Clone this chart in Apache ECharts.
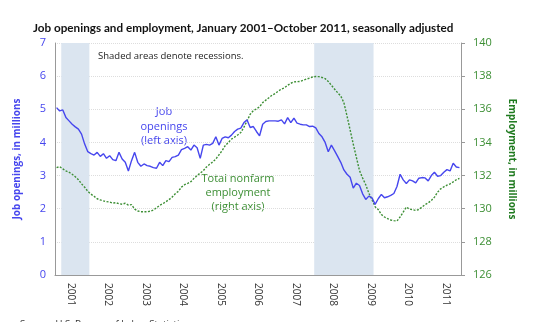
<!DOCTYPE html>
<html>
<head>
<meta charset="utf-8">
<script src="https://cdn.jsdelivr.net/npm/echarts@6/dist/echarts.min.js"></script>
<style>
  html, body { margin: 0; padding: 0; background: #fff; }
  #chart { width: 560px; height: 322px; }
</style>
</head>
<body>
<div id="chart"></div>
<script>
// months Jan 2001 .. Oct 2011 (130 points)
const years = ['2001', '2002', '2003', '2004', '2005', '2006', '2007', '2008', '2009', '2010', '2011']

// job openings, millions (left axis)
const jobOpenings = [
  5.05, 4.95, 4.98, 4.75, 4.65, 4.55, 4.47, 4.40, 4.25, 3.95, 3.72, 3.66,
  3.62, 3.70, 3.58, 3.66, 3.52, 3.60, 3.48, 3.45, 3.70, 3.50, 3.40, 3.14,
  3.45, 3.70, 3.40, 3.28, 3.35, 3.30, 3.28, 3.24, 3.22, 3.40, 3.30, 3.45,
  3.42, 3.55, 3.57, 3.62, 3.78, 3.82, 3.87, 3.77, 3.92, 3.84, 3.52, 3.92,
  3.94, 3.92, 3.97, 4.17, 3.92, 4.12, 4.17, 4.14, 4.22, 4.33, 4.40, 4.43,
  4.60, 4.68, 4.45, 4.48, 4.33, 4.20, 4.55, 4.63, 4.65, 4.65, 4.65, 4.64,
  4.68, 4.56, 4.75, 4.60, 4.73, 4.58, 4.55, 4.53, 4.53, 4.48, 4.49, 4.44,
  4.27, 4.17, 4.00, 3.72, 3.92, 3.75, 3.58, 3.40, 3.17, 3.04, 2.95, 2.62,
  2.77, 2.70, 2.45, 2.28, 2.38, 2.33, 2.13, 2.30, 2.43, 2.33, 2.36, 2.40,
  2.46, 2.67, 3.04, 2.87, 2.76, 2.87, 2.84, 2.78, 2.92, 2.94, 2.93, 2.84,
  3.00, 3.10, 2.98, 3.00, 3.10, 3.18, 3.14, 3.37, 3.26, 3.24
]

// total nonfarm employment, millions (right axis)
const employment = [
  132.48, 132.54, 132.40, 132.28, 132.20, 132.08, 131.93, 131.75, 131.50, 131.30, 131.05, 130.88,
  130.75, 130.60, 130.53, 130.47, 130.43, 130.40, 130.34, 130.36, 130.30, 130.27, 130.33, 130.22,
  130.25, 129.98, 129.86, 129.82, 129.82, 129.82, 129.85, 129.92, 130.05, 130.20, 130.30, 130.42,
  130.55, 130.70, 130.90, 131.05, 131.30, 131.45, 131.53, 131.63, 131.83, 132.00, 132.15, 132.30,
  132.52, 132.68, 132.82, 133.00, 133.25, 133.50, 133.80, 134.00, 134.20, 134.32, 134.45, 134.60,
  134.92, 135.30, 135.70, 135.92, 136.02, 136.15, 136.40, 136.55, 136.70, 136.85, 136.95, 137.10,
  137.22, 137.30, 137.45, 137.57, 137.65, 137.67, 137.68, 137.75, 137.82, 137.88, 137.95, 137.98,
  137.97, 137.92, 137.85, 137.68, 137.45, 137.22, 137.00, 136.80, 136.40, 135.60, 134.75, 133.90,
  133.10, 132.30, 131.85, 131.45, 130.93, 130.55, 130.12, 129.95, 129.65, 129.50, 129.40, 129.32,
  129.28, 129.26, 129.50, 129.80, 130.10, 129.98, 129.94, 129.90, 129.95, 130.10, 130.25, 130.35,
  130.50, 130.70, 131.00, 131.20, 131.32, 131.42, 131.50, 131.62, 131.75, 131.83
]

// recessions as month index ranges [start, end) from Jan 2001
const recessions = [[2, 11], [83, 102]]

const blue = '#4646ee'
const green = '#3d8f35'

const chart = echarts.init(document.getElementById('chart'))

// put each month in the middle of its slot
const toPoints = arr => arr.map((v, i) => [i + 0.5, v])
const yearTicks = years.map((y, i) => 5 + i * 12)

const option = {
  animation: false,
  textStyle: { fontFamily: 'Open Sans' },
  title: {
    text: 'Job openings and employment, January 2001\u2013October 2011, seasonally adjusted',
    left: 28,
    top: 17,
    textStyle: { fontFamily: 'Lato', fontWeight: 'bold', fontSize: 11.7, color: '#111' }
  },
  grid: { left: 55, right: 99, top: 43, bottom: 47 },
  xAxis: {
    type: 'value',
    min: 0,
    max: 130,
    splitLine: { show: false },
    axisLine: { lineStyle: { color: '#999' } },
    axisTick: { show: false },
    axisLabel: {
      customValues: yearTicks,
      rotate: -90,
      margin: 8,
      fontSize: 10,
      color: '#333',
      formatter: v => years[Math.round((v - 5) / 12)]
    }
  },
  yAxis: [
    {
      type: 'value',
      min: 0,
      max: 7,
      interval: 1,
      name: 'Job openings, in millions',
      nameLocation: 'middle',
      nameRotate: 90,
      nameGap: 33,
      nameTextStyle: { color: blue, fontWeight: 'bold', fontSize: 10 },
      axisLine: { show: true, lineStyle: { color: '#999' } },
      axisTick: { show: false },
      axisLabel: { color: blue, fontSize: 11, margin: 9 },
      splitLine: { lineStyle: { color: '#ddd', type: 'dotted' } }
    },
    {
      type: 'value',
      min: 126,
      max: 140,
      interval: 2,
      name: 'Employment, in millions',
      nameLocation: 'middle',
      nameRotate: -90,
      nameGap: 46,
      nameTextStyle: { color: '#1f7a1f', fontWeight: 'bold', fontSize: 10 },
      axisLine: { show: true, lineStyle: { color: '#999' } },
      axisTick: { show: true, length: 4, lineStyle: { color: '#999' } },
      axisLabel: { color: green, fontSize: 11, margin: 12 },
      splitLine: { show: false }
    }
  ],
  series: [
    {
      name: 'Recessions',
      type: 'line',
      data: [],
      markArea: {
        silent: true,
        itemStyle: { color: '#dbe5f0' },
        data: recessions.map(r => [{ xAxis: r[0] }, { xAxis: r[1] }])
      }
    },
    {
      name: 'Total nonfarm employment',
      type: 'line',
      yAxisIndex: 1,
      data: toPoints(employment),
      showSymbol: false,
      lineStyle: { color: green, width: 1.4, type: [2, 1.5] }
    },
    {
      name: 'Job openings',
      type: 'line',
      yAxisIndex: 0,
      data: toPoints(jobOpenings),
      showSymbol: false,
      lineStyle: { color: blue, width: 1.4 }
    }
  ],
  graphic: [
    {
      type: 'text', left: 98, top: 51,
      style: { text: 'Shaded areas denote recessions.', fontSize: 9.5, fill: '#222', fontFamily: 'Open Sans' }
    },
    {
      type: 'text', x: 164, y: 105,
      style: {
        text: 'Job\nopenings\n(left axis)', align: 'center', lineHeight: 14.5,
        fontSize: 11, fill: blue, fontFamily: 'Open Sans'
      }
    },
    {
      type: 'text', x: 238, y: 172,
      style: {
        text: 'Total nonfarm\nemployment\n(right axis)', align: 'center', lineHeight: 14,
        fontSize: 11, fill: green, fontFamily: 'Open Sans'
      }
    },
    {
      type: 'text', left: 20, top: 319,
      style: { text: 'Source: U.S. Bureau of Labor Statistics.', fontSize: 9.5, fill: '#333', fontFamily: 'Open Sans' }
    }
  ]
}

chart.setOption(option)
</script>
</body>
</html>
